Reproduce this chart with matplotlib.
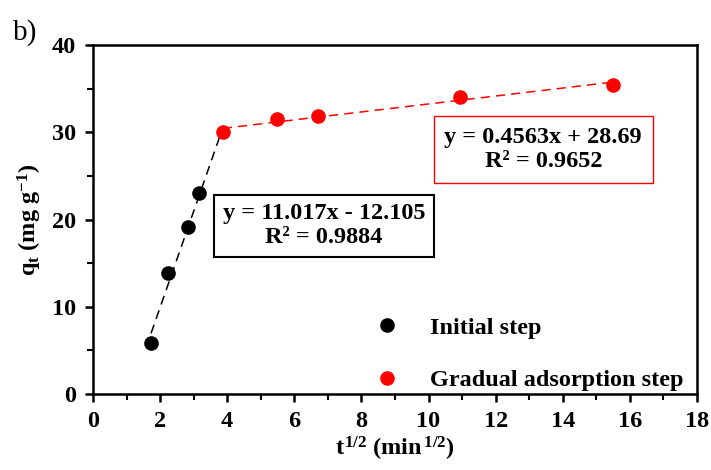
import matplotlib
matplotlib.use('Agg')
import matplotlib.pyplot as plt
import numpy as np

plt.rcParams['font.family'] = 'Liberation Serif'
plt.rcParams['font.weight'] = 'bold'
plt.rcParams['mathtext.fontset'] = 'custom'
plt.rcParams['mathtext.rm'] = 'Liberation Serif:bold'
plt.rcParams['mathtext.it'] = 'Liberation Serif:bold'
plt.rcParams['mathtext.bf'] = 'Liberation Serif:bold'

# t^0.5 (min^0.5) y qt (mg/g)
x_inicial = [1.73, 2.24, 2.83, 3.16]
q_inicial = [5.8, 13.9, 19.1, 23.1]
x_gradual = [3.87, 5.48, 6.71, 10.95, 15.49]
q_gradual = [30.0, 31.5, 31.9, 34.1, 35.4]

# ajustes lineales reportados
m1, b1, r2_1 = 11.017, -12.105, 0.9884
m2, b2, r2_2 = 0.4563, 28.69, 0.9652

fs = 17.5

fig = plt.figure(figsize=(7.11, 4.70), dpi=100)
ax = fig.add_axes([0.1308, 0.1617, 0.8495, 0.7423])

# lineas de ajuste
xa = np.array([x_inicial[0], x_gradual[0]])
ax.plot(xa, m1 * xa + b1, '--', color='black', lw=1.1, dashes=(6, 4), zorder=2)
xb = np.array([x_gradual[0], x_gradual[-1]])
ax.plot(xb, m2 * xb + b2, '--', color='red', lw=1.1, dashes=(6, 4), zorder=2)

ax.plot(x_inicial, q_inicial, 'o', color='black', ms=9.5, label='Initial step', zorder=3)
ax.plot(x_gradual, q_gradual, 'o', color='red', ms=9.5, label='Gradual adsorption step', zorder=3)

ax.set_xlim(0, 18)
ax.set_ylim(0, 40)
ax.set_xticks(range(0, 19, 2))
ax.set_xticks(range(1, 18, 2), minor=True)
ax.set_yticks(range(0, 41, 10))
ax.set_yticks(range(5, 40, 10), minor=True)
ax.tick_params(which='major', direction='out', length=6, width=1.8, labelsize=fs, pad=6)
ax.tick_params(which='minor', direction='out', length=4, width=1.5)
for s in ax.spines.values():
    s.set_linewidth(1.8)
for lab in ax.get_xticklabels() + ax.get_yticklabels():
    lab.set_fontweight('bold')

ax.set_xlabel(r'$t^{1/2}$ (min$^{\,1/2}$)', fontsize=fs, fontweight='bold', labelpad=2)
ax.set_ylabel(r'$q_t$ (mg g$^{-1}$)', fontsize=fs, fontweight='bold', labelpad=6)

# cajas con las ecuaciones
ax.text(6.88, 19.3, f'y = {m1:.3f}x - {abs(b1):.3f}\nR² = {r2_1:.4f}', ha='center', va='center',
        fontsize=fs, fontweight='bold', linespacing=1.2,
        bbox=dict(boxstyle='square,pad=0.35', fc='white', ec='black', lw=1.5))
ax.text(13.42, 28.0, f'y = {m2:.4f}x + {b2:.2f}\nR² = {r2_2:.4f}', ha='center', va='center',
        fontsize=fs, fontweight='bold', linespacing=1.2,
        bbox=dict(boxstyle='square,pad=0.45', fc='white', ec='red', lw=1.0))

ax.legend(loc='lower right', bbox_to_anchor=(0.993, -0.02), frameon=False, handletextpad=1.0,
          labelspacing=1.25, borderaxespad=0.0, handlelength=1.5,
          prop={'weight': 'bold', 'size': fs})

fig.text(0.018, 0.915, 'b)', fontsize=21, fontweight='normal')

fig.savefig('out.png', dpi=100)
